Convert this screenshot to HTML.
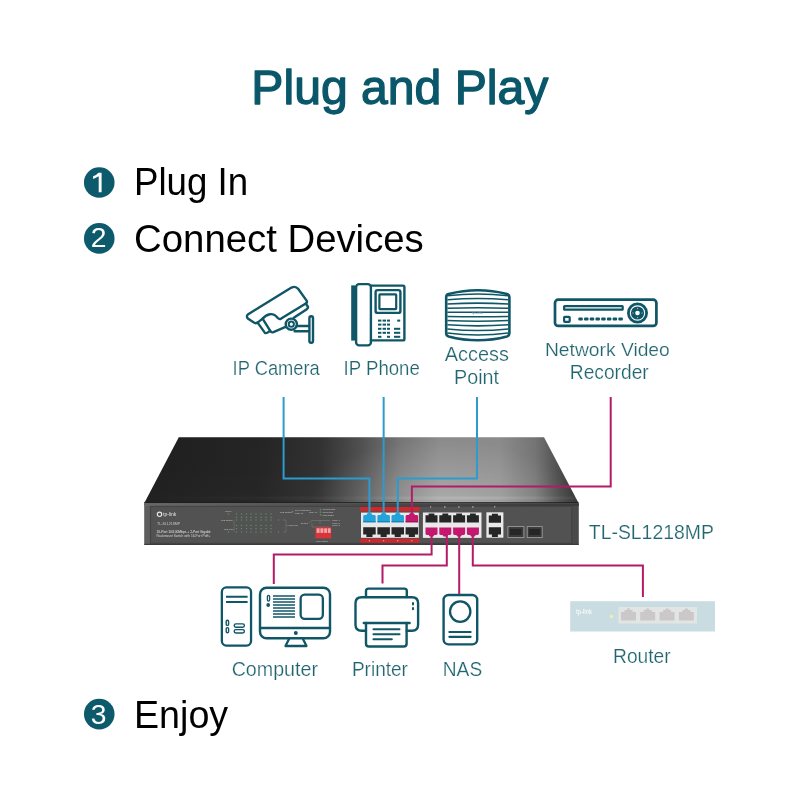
<!DOCTYPE html>
<html><head><meta charset="utf-8">
<style>
html,body{margin:0;padding:0;background:#fff;width:800px;height:800px;overflow:hidden}
svg{display:block;will-change:transform}
text{font-family:"Liberation Sans",sans-serif}
</style></head>
<body>
<svg width="800" height="800" viewBox="0 0 800 800">
<defs>
  <linearGradient id="topg" gradientUnits="userSpaceOnUse" x1="144" y1="0" x2="579" y2="0">
    <stop offset="0" stop-color="#212121"/>
    <stop offset="0.267" stop-color="#272727"/>
    <stop offset="0.405" stop-color="#353535"/>
    <stop offset="0.497" stop-color="#555555"/>
    <stop offset="0.589" stop-color="#7e7e7e"/>
    <stop offset="0.68" stop-color="#959595"/>
    <stop offset="0.818" stop-color="#959595"/>
    <stop offset="0.92" stop-color="#767676"/>
    <stop offset="1" stop-color="#4e4e4e"/>
  </linearGradient>
  <linearGradient id="topv" gradientUnits="userSpaceOnUse" x1="0" y1="437" x2="0" y2="503">
    <stop offset="0" stop-color="#000" stop-opacity="0.07"/>
    <stop offset="0.5" stop-color="#000" stop-opacity="0.05"/>
    <stop offset="1" stop-color="#000" stop-opacity="0"/>
  </linearGradient>
  <radialGradient id="topr" gradientUnits="userSpaceOnUse" cx="440" cy="498" r="130" gradientTransform="translate(440 498) scale(1 0.45) translate(-440 -498)">
    <stop offset="0" stop-color="#ffffff" stop-opacity="0.2"/>
    <stop offset="1" stop-color="#ffffff" stop-opacity="0"/>
  </radialGradient>
  <linearGradient id="edgeg" gradientUnits="userSpaceOnUse" x1="535" y1="0" x2="579" y2="0">
    <stop offset="0" stop-color="#1a1a1a" stop-opacity="0"/>
    <stop offset="1" stop-color="#1a1a1a" stop-opacity="0.45"/>
  </linearGradient>
  <linearGradient id="bev" gradientUnits="userSpaceOnUse" x1="144" y1="0" x2="579" y2="0">
    <stop offset="0" stop-color="#fff" stop-opacity="0"/>
    <stop offset="0.5" stop-color="#fff" stop-opacity="0.04"/>
    <stop offset="0.75" stop-color="#fff" stop-opacity="0.14"/>
    <stop offset="1" stop-color="#fff" stop-opacity="0.04"/>
  </linearGradient>
  <linearGradient id="frontg" gradientUnits="userSpaceOnUse" x1="144" y1="0" x2="579" y2="0">
    <stop offset="0" stop-color="#5e5e5e"/>
    <stop offset="0.4" stop-color="#505050"/>
    <stop offset="1" stop-color="#4a4a4a"/>
  </linearGradient>
  <linearGradient id="fronttop" gradientUnits="userSpaceOnUse" x1="144" y1="0" x2="579" y2="0">
    <stop offset="0" stop-color="#686868"/>
    <stop offset="0.5" stop-color="#4a4a4a"/>
    <stop offset="1" stop-color="#3a3a3a"/>
  </linearGradient>
</defs>
<rect width="800" height="800" fill="#fff"/>

<!-- Title -->
<text id="title" x="251.35" y="104.35" font-size="47.6" fill="#0a576a" stroke="#0a576a" stroke-width="1.3" stroke-linejoin="round" textLength="297.06" lengthAdjust="spacingAndGlyphs">Plug and Play</text>

<!-- bullets -->
<g fill="#0c5a6b">
  <circle cx="99.25" cy="182.5" r="15.3"/>
  <circle cx="99.25" cy="238.4" r="15.3"/>
  <circle cx="99.25" cy="714.1" r="15.3"/>
</g>
<path d="M98.7 172.7 H101.6 V192.3 H98.7 V176.3 Q96 178 93.1 178.9 V176.3 Q96.6 175 98.4 172.7 Z" fill="#fff"/>
<g fill="#fff" font-size="28.3" text-anchor="middle">
  <text x="98.6" y="247.1">2</text>
  <text x="98.6" y="723.6">3</text>
</g>
<g fill="#000" font-size="34.6">
  <text font-size="38.37" id="plugin" x="133.92" y="195.10" textLength="114.24" lengthAdjust="spacingAndGlyphs">Plug In</text>
  <text font-size="38.85" id="connect" x="134.12" y="252.12" textLength="289.66" lengthAdjust="spacingAndGlyphs">Connect Devices</text>
  <text font-size="38.01" id="enjoy" x="134.04" y="727.90" textLength="94.09" lengthAdjust="spacingAndGlyphs">Enjoy</text>
</g>

<!-- labels -->
<g fill="#20656f" font-size="19" stroke="#fff" stroke-width="0.22">
  <text font-size="19.99" id="ipcam" x="232.62" y="375.25" textLength="87.19" lengthAdjust="spacingAndGlyphs">IP Camera</text>
  <text font-size="19.77" id="ipphone" x="343.60" y="375.20" textLength="76.21" lengthAdjust="spacingAndGlyphs">IP Phone</text>
  <text font-size="19.62" id="access" x="444.76" y="361.00" textLength="64.17" lengthAdjust="spacingAndGlyphs">Access</text>
  <text font-size="19.62" id="point" x="454.08" y="384.00" textLength="44.98" lengthAdjust="spacingAndGlyphs">Point</text>
  <text font-size="19.04" id="nvr1" x="544.95" y="356.00" textLength="124.85" lengthAdjust="spacingAndGlyphs">Network Video</text>
  <text font-size="19.99" id="nvr2" x="569.78" y="378.75" textLength="78.96" lengthAdjust="spacingAndGlyphs">Recorder</text>
  <text id="model" x="588.82" y="539.00" font-size="20.93" textLength="125.00" lengthAdjust="spacingAndGlyphs">TL-SL1218MP</text>
  <text font-size="19.78" id="computer" x="231.64" y="676.06" textLength="86.36" lengthAdjust="spacingAndGlyphs">Computer</text>
  <text font-size="19.84" id="printer" x="351.89" y="676.00" textLength="56.04" lengthAdjust="spacingAndGlyphs">Printer</text>
  <text font-size="19.84" id="nas" x="442.76" y="676.00" textLength="39.42" lengthAdjust="spacingAndGlyphs">NAS</text>
  <text font-size="19.91" id="router" x="613.07" y="662.50" textLength="57.60" lengthAdjust="spacingAndGlyphs">Router</text>
</g>

<!-- ===== SWITCH ===== -->
<g id="switch">
  <polygon points="178.8,437.2 544,437.2 578.6,503.2 144.2,503.2" fill="url(#topg)"/>
  <polygon points="178.8,437.2 544,437.2 578.6,503.2 144.2,503.2" fill="url(#topv)"/>
  <polygon points="178.8,437.2 544,437.2 578.6,503.2 144.2,503.2" fill="url(#topr)"/>
  <polygon points="178.8,437.2 544,437.2 578.6,503.2 144.2,503.2" fill="url(#edgeg)"/>
  <rect x="147" y="496.5" width="429" height="3" fill="url(#bev)"/>
  <rect x="144.2" y="502.2" width="434.4" height="1.4" fill="#1e1e1e"/>
  <rect x="144.2" y="503.4" width="434.6" height="41.2" rx="0.8" fill="url(#frontg)"/>
  <rect x="144.2" y="503.4" width="434.6" height="2.6" fill="url(#fronttop)"/>
  <rect x="150.6" y="506.3" width="421.2" height="37" fill="#525252" stroke="#404040" stroke-width="0.9"/>
  <rect x="144.2" y="543.8" width="434.6" height="1.2" fill="#3a3a3a"/>

  <!-- left panel text -->
  <g fill="#d8d8d8" font-size="3.6">
    <circle cx="159.5" cy="514.3" r="2.2" fill="none" stroke="#e8e8e8" stroke-width="1.1"/>
    <text x="163" y="515.8" font-size="5" fill="#e0e0e0">tp-link</text>
    <text x="157" y="524.5" fill="#c8c8c8">TL-SL1218MP</text>
    <text x="156.5" y="533" font-size="4.2" fill="#e6e6e6" textLength="54" lengthAdjust="spacingAndGlyphs">16-Port 10/100Mbps + 2-Port Gigabit</text>
    <text x="156.5" y="537.3" font-size="3.8" fill="#d6d6d6" textLength="54" lengthAdjust="spacingAndGlyphs">Rackmount Switch with 16-Port PoE+</text>
  </g>
  <!-- LED grid -->
  <g fill="#558f5f">
    <circle cx="236.5" cy="514.0" r="0.75"/>
    <circle cx="241.5" cy="514.0" r="0.75"/>
    <circle cx="246.5" cy="514.0" r="0.75"/>
    <circle cx="251.0" cy="514.0" r="0.75"/>
    <circle cx="256.0" cy="514.0" r="0.75"/>
    <circle cx="261.0" cy="514.0" r="0.75"/>
    <circle cx="266.0" cy="514.0" r="0.75"/>
    <circle cx="271.0" cy="514.0" r="0.75"/>
    <circle cx="236.5" cy="520.0" r="0.75"/>
    <circle cx="241.5" cy="520.0" r="0.75"/>
    <circle cx="246.5" cy="520.0" r="0.75"/>
    <circle cx="251.0" cy="520.0" r="0.75"/>
    <circle cx="256.0" cy="520.0" r="0.75"/>
    <circle cx="261.0" cy="520.0" r="0.75"/>
    <circle cx="266.0" cy="520.0" r="0.75"/>
    <circle cx="271.0" cy="520.0" r="0.75"/>
    <circle cx="236.5" cy="525.5" r="0.75"/>
    <circle cx="241.5" cy="525.5" r="0.75"/>
    <circle cx="246.5" cy="525.5" r="0.75"/>
    <circle cx="251.0" cy="525.5" r="0.75"/>
    <circle cx="256.0" cy="525.5" r="0.75"/>
    <circle cx="261.0" cy="525.5" r="0.75"/>
    <circle cx="266.0" cy="525.5" r="0.75"/>
    <circle cx="271.0" cy="525.5" r="0.75"/>
    <circle cx="236.5" cy="532.0" r="0.75"/>
    <circle cx="241.5" cy="532.0" r="0.75"/>
    <circle cx="246.5" cy="532.0" r="0.75"/>
    <circle cx="251.0" cy="532.0" r="0.75"/>
    <circle cx="256.0" cy="532.0" r="0.75"/>
    <circle cx="261.0" cy="532.0" r="0.75"/>
    <circle cx="266.0" cy="532.0" r="0.75"/>
    <circle cx="271.0" cy="532.0" r="0.75"/>
    <circle cx="228.5" cy="514" r="0.8"/><circle cx="228.5" cy="532" r="0.8"/><circle cx="278.5" cy="520" r="0.75"/><circle cx="278.5" cy="532" r="0.75"/>
    <circle cx="292.5" cy="511.8" r="1"/><circle cx="320.5" cy="509.6" r="0.9"/><circle cx="320.5" cy="512.2" r="0.9"/><circle cx="320.5" cy="514.8" r="0.9"/>
  </g>
  <g fill="#8f8f8f">
    <rect x="235.9" y="516.8" width="1.2" height="0.9"/>
    <rect x="240.9" y="516.8" width="1.2" height="0.9"/>
    <rect x="245.9" y="516.8" width="1.2" height="0.9"/>
    <rect x="250.4" y="516.8" width="1.2" height="0.9"/>
    <rect x="255.4" y="516.8" width="1.2" height="0.9"/>
    <rect x="260.4" y="516.8" width="1.2" height="0.9"/>
    <rect x="265.4" y="516.8" width="1.2" height="0.9"/>
    <rect x="270.4" y="516.8" width="1.2" height="0.9"/>
    <rect x="235.9" y="528.3" width="1.2" height="0.9"/>
    <rect x="240.9" y="528.3" width="1.2" height="0.9"/>
    <rect x="245.9" y="528.3" width="1.2" height="0.9"/>
    <rect x="250.4" y="528.3" width="1.2" height="0.9"/>
    <rect x="255.4" y="528.3" width="1.2" height="0.9"/>
    <rect x="260.4" y="528.3" width="1.2" height="0.9"/>
    <rect x="265.4" y="528.3" width="1.2" height="0.9"/>
    <rect x="270.4" y="528.3" width="1.2" height="0.9"/>
  </g>
  <g fill="none" stroke="#8a8a8a" stroke-width="0.4"><path d="M234 520 V532 M283 520 H286 V532 H283 M286 525.5 H288"/></g>
  <g fill="#c4c4c4" font-size="2.3">
    <text x="225" y="511.5">Power</text>
    <text x="221" y="520.5">PoE Status</text>
    <text x="224" y="529.5">PoE Max</text>
    <text x="288.5" y="526">PoE Max</text>
    <text x="280" y="512.5">PoE Status</text>
    <text x="295" y="511.2">100 Mbps/1000</text>
    <text x="295" y="514.2">Link/Act</text>
    <text x="309" y="513">Link/Act</text>
    <text x="322.5" y="510.3">10/100Mbps</text>
    <text x="322.5" y="512.9">1000Mbps</text>
    <text x="322.5" y="515.5">PoE Status</text>
    <text x="301" y="523.5">Extend</text>
    <text x="332" y="521">Mode 1</text>
    <text x="332" y="523.6">Mode 2</text>
    <text x="332" y="526.2">Mode 3</text>
    <text x="316" y="541.6" font-size="2">Mode Control</text>
  </g>
  <g fill="none" stroke="#9a9a9a" stroke-width="0.35"><path d="M309 522.8 L312 520.5 H330 M312 523 V527 H330 M320 520.5 V524"/></g>
  <rect x="315.5" y="527.2" width="15.8" height="11.2" fill="#d8343b"/>
  <g fill="#f4a4a4"><rect x="316.6" y="528.3" width="3" height="4.6"/><rect x="320.4" y="528.3" width="3" height="4.6"/><rect x="324.2" y="528.3" width="3" height="4.6"/><rect x="328" y="528.3" width="2.6" height="4.6"/></g>

  <!-- port block 1 -->
  <rect x="360.2" y="507" width="59.3" height="4.2" fill="#d3262b"/>
  <rect x="361" y="512.6" width="57.8" height="25.2" fill="#e9e9e9"/>
  <rect x="360.2" y="538.8" width="59.3" height="3.9" fill="#d3262b"/>
  <rect x="368.8" y="540.3" width="1.2" height="1" fill="#f0b0b0"/><rect x="383.0" y="540.3" width="1.2" height="1" fill="#f0b0b0"/><rect x="397.1" y="540.3" width="1.2" height="1" fill="#f0b0b0"/><rect x="411.2" y="540.3" width="1.2" height="1" fill="#f0b0b0"/>
  <g id="rowtop1">
    <path d="M363.2 522.3 V516.4 Q363.2 515 364.6 515 H366.4 L367.4 513.2 H371.5 L372.5 515 H374.3 Q375.7 515 375.7 516.4 V522.3 Z" fill="#22a3dc"/>
    <rect x="363.2" y="521.2" width="12.5" height="1.1" fill="#1a7fb0"/>
    <path d="M377.4 522.3 V516.4 Q377.4 515 378.8 515 H380.6 L381.6 513.2 H385.7 L386.7 515 H388.5 Q389.9 515 389.9 516.4 V522.3 Z" fill="#22a3dc"/>
    <rect x="377.4" y="521.2" width="12.5" height="1.1" fill="#1a7fb0"/>
    <path d="M391.5 522.3 V516.4 Q391.5 515 392.9 515 H394.7 L395.7 513.2 H399.8 L400.8 515 H402.6 Q404.0 515 404.0 516.4 V522.3 Z" fill="#22a3dc"/>
    <rect x="391.5" y="521.2" width="12.5" height="1.1" fill="#1a7fb0"/>
    <path d="M405.6 522.3 V516.4 Q405.6 515 407.0 515 H408.8 L409.8 513.2 H413.9 L414.9 515 H416.7 Q418.1 515 418.1 516.4 V522.3 Z" fill="#c4186f"/>
    <rect x="405.6" y="521.2" width="12.5" height="1.1" fill="#9a1256"/>
  </g>
  <g fill="#262626">
    <path id="pb" d="M363.2 527.3 h12.5 v7.2 h-3.2 v2.6 h-6.1 v-2.6 h-3.2 z"/>
    <use href="#pb" x="14.2"/><use href="#pb" x="28.3"/><use href="#pb" x="42.4"/>
  </g>

  <!-- port block 2 -->
  <rect x="422.9" y="512.5" width="58.6" height="25.4" fill="#e9e9e9"/>
  <g fill="#262626">
    <path id="pt" d="M425.5 522.4 h12 v-7.2 h-3.1 v-1.6 h-5.8 v1.6 h-3.1 z"/>
    <use href="#pt" x="13.8"/><use href="#pt" x="27.6"/><use href="#pt" x="41.4"/>
  </g>
  <g>
    <path d="M425.5 527.5 H437.5 V533.6 Q437.5 535 436.1 535 H434.3 L433.3 536.4 H429.7 L428.7 535 H426.9 Q425.5 535 425.5 533.6 Z" fill="#c4186f"/>
    <path d="M439.3 527.5 H451.3 V533.6 Q451.3 535 449.9 535 H448.1 L447.1 536.4 H443.5 L442.5 535 H440.7 Q439.3 535 439.3 533.6 Z" fill="#c4186f"/>
    <path d="M453.1 527.5 H465.1 V533.6 Q465.1 535 463.7 535 H461.9 L460.9 536.4 H457.3 L456.3 535 H454.5 Q453.1 535 453.1 533.6 Z" fill="#c4186f"/>
    <path d="M466.9 527.5 H478.9 V533.6 Q478.9 535 477.5 535 H475.7 L474.7 536.4 H471.1 L470.1 535 H468.3 Q466.9 535 466.9 533.6 Z" fill="#c4186f"/>
  </g>
  <g fill="#9a9a9a"><rect x="430" y="506.2" width="1.2" height="1.5"/><rect x="444" y="506.2" width="1.6" height="1.5"/><rect x="458" y="506.2" width="1.6" height="1.5"/><rect x="472" y="506.2" width="1.6" height="1.5"/><rect x="494" y="506" width="1.4" height="1.5"/></g>

  <!-- port block 3 -->
  <rect x="486.4" y="512.3" width="17" height="25.4" fill="#e9e9e9"/>
  <path d="M488.8 522.8 h12.2 v-7.4 h-3.1 v-1.6 h-6 v1.6 h-3.1 z" fill="#262626"/>
  <path d="M488.8 527.2 h12.2 v7.4 h-3.1 v2.3 h-6 v-2.3 h-3.1 z" fill="#262626"/>
  <!-- SFP -->
  <rect x="507.9" y="526.6" width="16" height="11" fill="#3a3a3a" stroke="#9c9c9c" stroke-width="0.9"/>
  <rect x="527.2" y="526.6" width="15" height="11" fill="#3a3a3a" stroke="#9c9c9c" stroke-width="0.9"/>
  <rect x="510" y="529" width="11.5" height="6" fill="#262626"/>
  <rect x="529.2" y="529" width="11" height="6" fill="#262626"/>
</g>

<!-- ===== ICONS ===== -->
<g id="icons" fill="none" stroke="#0f5666" stroke-width="2.4" stroke-linejoin="round" stroke-linecap="round">
  <!-- camera -->
  <path d="M248.2 314.2 L291.5 287.6 Q295.5 285.6 298.3 289 L306.6 300.6 Q307.6 302.4 305.8 303.6 L281.2 318.6 Q279.3 319.6 277.8 318 Q274.5 313.8 270 314.2 Q266 314.6 262.6 318.6 L257.6 322.6 Q255.6 323.8 253.8 322.6 L248.2 318.8 Q245.6 316.4 248.2 314.2 Z"/>
  <path d="M305.8 303.6 L307.6 306.2 Q308.6 308 306.8 309.2 L293.8 317.8"/>
  <path d="M262.6 318.6 L270.4 331.2 Q271.4 332.8 273.4 332.2 L285.6 326.8"/>
  <path d="M257.6 322.6 L264.6 332.4 Q265.6 333.6 267.2 332.8 L270.2 331"/>
  <circle cx="291.3" cy="324.2" r="5.6"/>
  <circle cx="291.3" cy="324.2" r="2.6" stroke-width="2"/>
  <path d="M296.6 326 H308.6 M294.6 331.2 H308.6"/>
  <rect x="309.4" y="316.2" width="3.6" height="26.6" rx="1.8"/>
  <!-- AP -->
  <path d="M446.2 297 Q446.2 294.6 448.6 294 Q477.8 286.4 507 294 Q509.4 294.6 509.4 297 V333.2 Q509.4 335.6 507 336.4 Q477.8 344 448.6 336.4 Q446.2 335.6 446.2 333.2 Z" stroke-width="2.6"/>
  <g stroke-width="1.55" stroke-linecap="butt">
    <path d="M447.4 295.70 Q477.8 292.30 508.2 295.70"/>
    <path d="M447.4 299.85 Q477.8 297.25 508.2 299.85"/>
    <path d="M447.4 304.00 Q477.8 302.20 508.2 304.00"/>
    <path d="M447.4 308.15 Q477.8 307.15 508.2 308.15"/>
    <path d="M447.4 312.30 Q477.8 312.10 508.2 312.30"/>
    <path d="M447.4 316.45 Q477.8 317.05 508.2 316.45"/>
    <path d="M447.4 320.60 Q477.8 322.00 508.2 320.60"/>
    <path d="M447.4 324.75 Q477.8 326.95 508.2 324.75"/>
    <path d="M447.4 328.90 Q477.8 331.90 508.2 328.90"/>
    <path d="M447.4 333.05 Q477.8 336.85 508.2 333.05"/>
  </g>
  <text x="472" y="314" font-size="4.2" fill="#6a8d95" stroke="none">tp-link</text>
  <!-- NVR -->
  <rect x="555" y="299.7" width="101.4" height="26.2" rx="3.2" stroke-width="2.7"/>
  <rect x="564.1" y="306.1" width="58.6" height="3.6" rx="0.5" stroke-width="2.2"/>
  <rect x="564.1" y="316.8" width="5.6" height="5" rx="0.8" stroke-width="2.2"/>
  <circle cx="637.5" cy="313" r="9.1" stroke-width="2.8"/>
  <g stroke="none" fill="#0f5666">
    <circle cx="637.5" cy="313" r="6.6"/>
    <rect x="578.30" y="317.4" width="4.5" height="3.1" rx="1"/>
    <rect x="584.02" y="317.4" width="4.5" height="3.1" rx="1"/>
    <rect x="589.74" y="317.4" width="4.5" height="3.1" rx="1"/>
    <rect x="595.46" y="317.4" width="4.5" height="3.1" rx="1"/>
    <rect x="601.18" y="317.4" width="4.5" height="3.1" rx="1"/>
    <rect x="606.90" y="317.4" width="4.5" height="3.1" rx="1"/>
    <rect x="612.62" y="317.4" width="4.5" height="3.1" rx="1"/>
    <rect x="618.34" y="317.4" width="4.5" height="3.1" rx="1"/>
  </g>
  <g stroke="none" fill="#fff"><circle cx="637.5" cy="313" r="2.3"/><g fill="#8fb3ba"><circle cx="637.5" cy="308.5" r="0.7"/><circle cx="637.5" cy="317.5" r="0.7"/><circle cx="633" cy="313" r="0.7"/><circle cx="642" cy="313" r="0.7"/></g></g>
  <!-- computer -->
  <rect x="221.85" y="587.45" width="29.2" height="58.1" rx="4.5" stroke-width="2.3"/>
  <path d="M226 596.8 H247.6 M226 602 H247.6" stroke-width="1.9" stroke-linecap="butt"/>
  <rect x="226.2" y="620.2" width="2.4" height="5.2" rx="1.2" stroke-width="1.4"/>
  <rect x="226.2" y="627.6" width="2.4" height="5.2" rx="1.2" stroke-width="1.4"/>
  <rect x="234.2" y="623.9" width="10.2" height="3.4" rx="1.7" stroke-width="1.4"/>
  <rect x="234.2" y="629.6" width="10.2" height="3.4" rx="1.7" stroke-width="1.4"/>
  <rect x="260" y="587.7" width="70" height="50.6" rx="6.5"/>
  <path d="M260 628 H330"/>
  <path d="M289 639 L285.5 646 H306.5 L303 639" stroke-width="2.3"/>
  <rect x="300.65" y="594.65" width="22.2" height="24.2" rx="4" stroke-width="2.3"/>
  <g stroke-width="1.5" stroke-linecap="butt">
    <path d="M273 596.00 H295"/>
    <path d="M273 599.00 H295"/>
    <path d="M273 602.00 H295"/>
    <path d="M273 605.00 H295"/>
    <path d="M273 608.00 H295"/>
    <path d="M273 611.00 H295"/>
    <path d="M273 614.00 H295"/>
    <path d="M273 617.00 H295"/>
  </g>
  <rect x="267.4" y="595.4" width="2.2" height="5.8" rx="1.1" stroke-width="1.3"/>
  <g stroke="none" fill="#0f5666"><circle cx="268.2" cy="605" r="1.9"/><circle cx="295.8" cy="633" r="2"/></g>
  <!-- printer -->
  <path d="M366 597 V591 Q366 588.6 368.6 588.6 H404.4 Q406.8 588.6 406.8 591 V597"/>
  <path d="M366 630.8 H361.6 Q355.5 630.8 355.5 624.8 V603.2 Q355.5 597.2 361.6 597.2 H412 Q418.1 597.2 418.1 603.2 V624.8 Q418.1 630.8 412 630.8 H406.8"/>
  <path d="M363.8 623 H409.6"/>
  <path d="M366 623 V643.4 Q366 646.5 369 646.5 H403.6 Q406.6 646.5 406.6 643.4 V623"/>
  <path d="M373.5 629.3 H399.5 M373.5 634.2 H399.5 M373.5 639.2 H391.8" stroke-width="2.1"/>
  <path d="M413 603 V604.4 M413 608 V609.2" stroke-width="2"/>
  <!-- NAS -->
  <rect x="443.6" y="594.95" width="33.6" height="49.45" rx="5"/>
  <circle cx="460.2" cy="611.6" r="10.2" stroke-width="2.3"/>
  <path d="M449.4 632 H470.6 M449.4 636.8 H470.6" stroke-width="2.2"/>
  <!-- phone -->
  <rect x="356.1" y="284.1" width="14.8" height="61.3" rx="3"/>
  <path d="M353.2 285.4 V340.6" stroke-width="4" stroke-linecap="butt"/>
  <path d="M371 285.6 H403 Q404.4 285.6 404.4 287 V339 Q404.4 340.4 403 340.4 H371"/>
  <rect x="375.6" y="290.1" width="24.8" height="22.8" rx="2"/>
  <rect x="379.4" y="294.4" width="16.8" height="14.8" rx="0.6" stroke-width="2.2"/>
  <g stroke="none" fill="#0f5666">
    <rect x="378" y="319.6" width="3.4" height="2"/><rect x="382.6" y="319.6" width="3.4" height="2"/><rect x="387" y="319.6" width="3" height="2"/><rect x="397.2" y="319.6" width="3" height="2"/>
    <rect x="378" y="323.6" width="3.4" height="2"/><rect x="382.6" y="323.6" width="3.4" height="2"/><rect x="387" y="323.6" width="3" height="2"/>
    <rect x="378" y="327.8" width="3.4" height="2"/><rect x="382.6" y="327.8" width="3.4" height="2"/><rect x="387" y="327.8" width="3" height="2"/><rect x="394" y="327.8" width="6.2" height="2"/>
    <rect x="378" y="331.8" width="3.4" height="2"/><rect x="382.6" y="331.8" width="3.4" height="2"/><rect x="387" y="331.8" width="3" height="2"/><rect x="394" y="331.8" width="6.2" height="2"/>
    <rect x="378" y="335.8" width="3.4" height="2"/><rect x="387" y="335.8" width="3" height="2"/><rect x="394" y="335.8" width="6.2" height="2"/>
  </g>
</g>

<!-- router -->
<g id="router-dev">
  <rect x="570.2" y="601.2" width="144.8" height="30.3" fill="#c9dce1"/>
  <rect x="618.5" y="607" width="78.5" height="16.5" fill="#e3e5e5"/>
  <g fill="#cac8c9">
    <path id="rp" d="M621 620.5 V612 H624.5 V610 H627 V608.5 H630 V610 H632.5 V612 H636 V620.5 Z"/>
    <use href="#rp" x="19.2"/><use href="#rp" x="38.6"/><use href="#rp" x="57.9"/>
  </g>
  <circle cx="611.5" cy="616.6" r="1.8" fill="#e6f5a6"/>
  <text x="576" y="613.6" font-size="6.4" font-weight="bold" fill="#f4f8f9" textLength="16" lengthAdjust="spacingAndGlyphs">tp-link</text>
</g>

<!-- ===== LINES ===== -->
<g fill="none" stroke-width="2" stroke-linejoin="miter">
  <path d="M283.6 397 V478.4 H369.45 V514" stroke="#2b9bd0"/>
  <path d="M383.65 397 V514" stroke="#2b9bd0"/>
  <path d="M477 397 V478.4 H397.75 V514" stroke="#2b9bd0"/>
  <path d="M610.7 397 V486.5 H411.85 V514" stroke="#b41b67"/>
  <path d="M431.6 535 V554.6 H273.8 V584" stroke="#b41b67"/>
  <path d="M446.8 535 V565.5 H382.5 V583.5" stroke="#b41b67"/>
  <path d="M459.2 535 V594" stroke="#b41b67"/>
  <path d="M472.8 535 V565.6 H642.9 V597" stroke="#b41b67"/>
</g>

</svg>
</body></html>
